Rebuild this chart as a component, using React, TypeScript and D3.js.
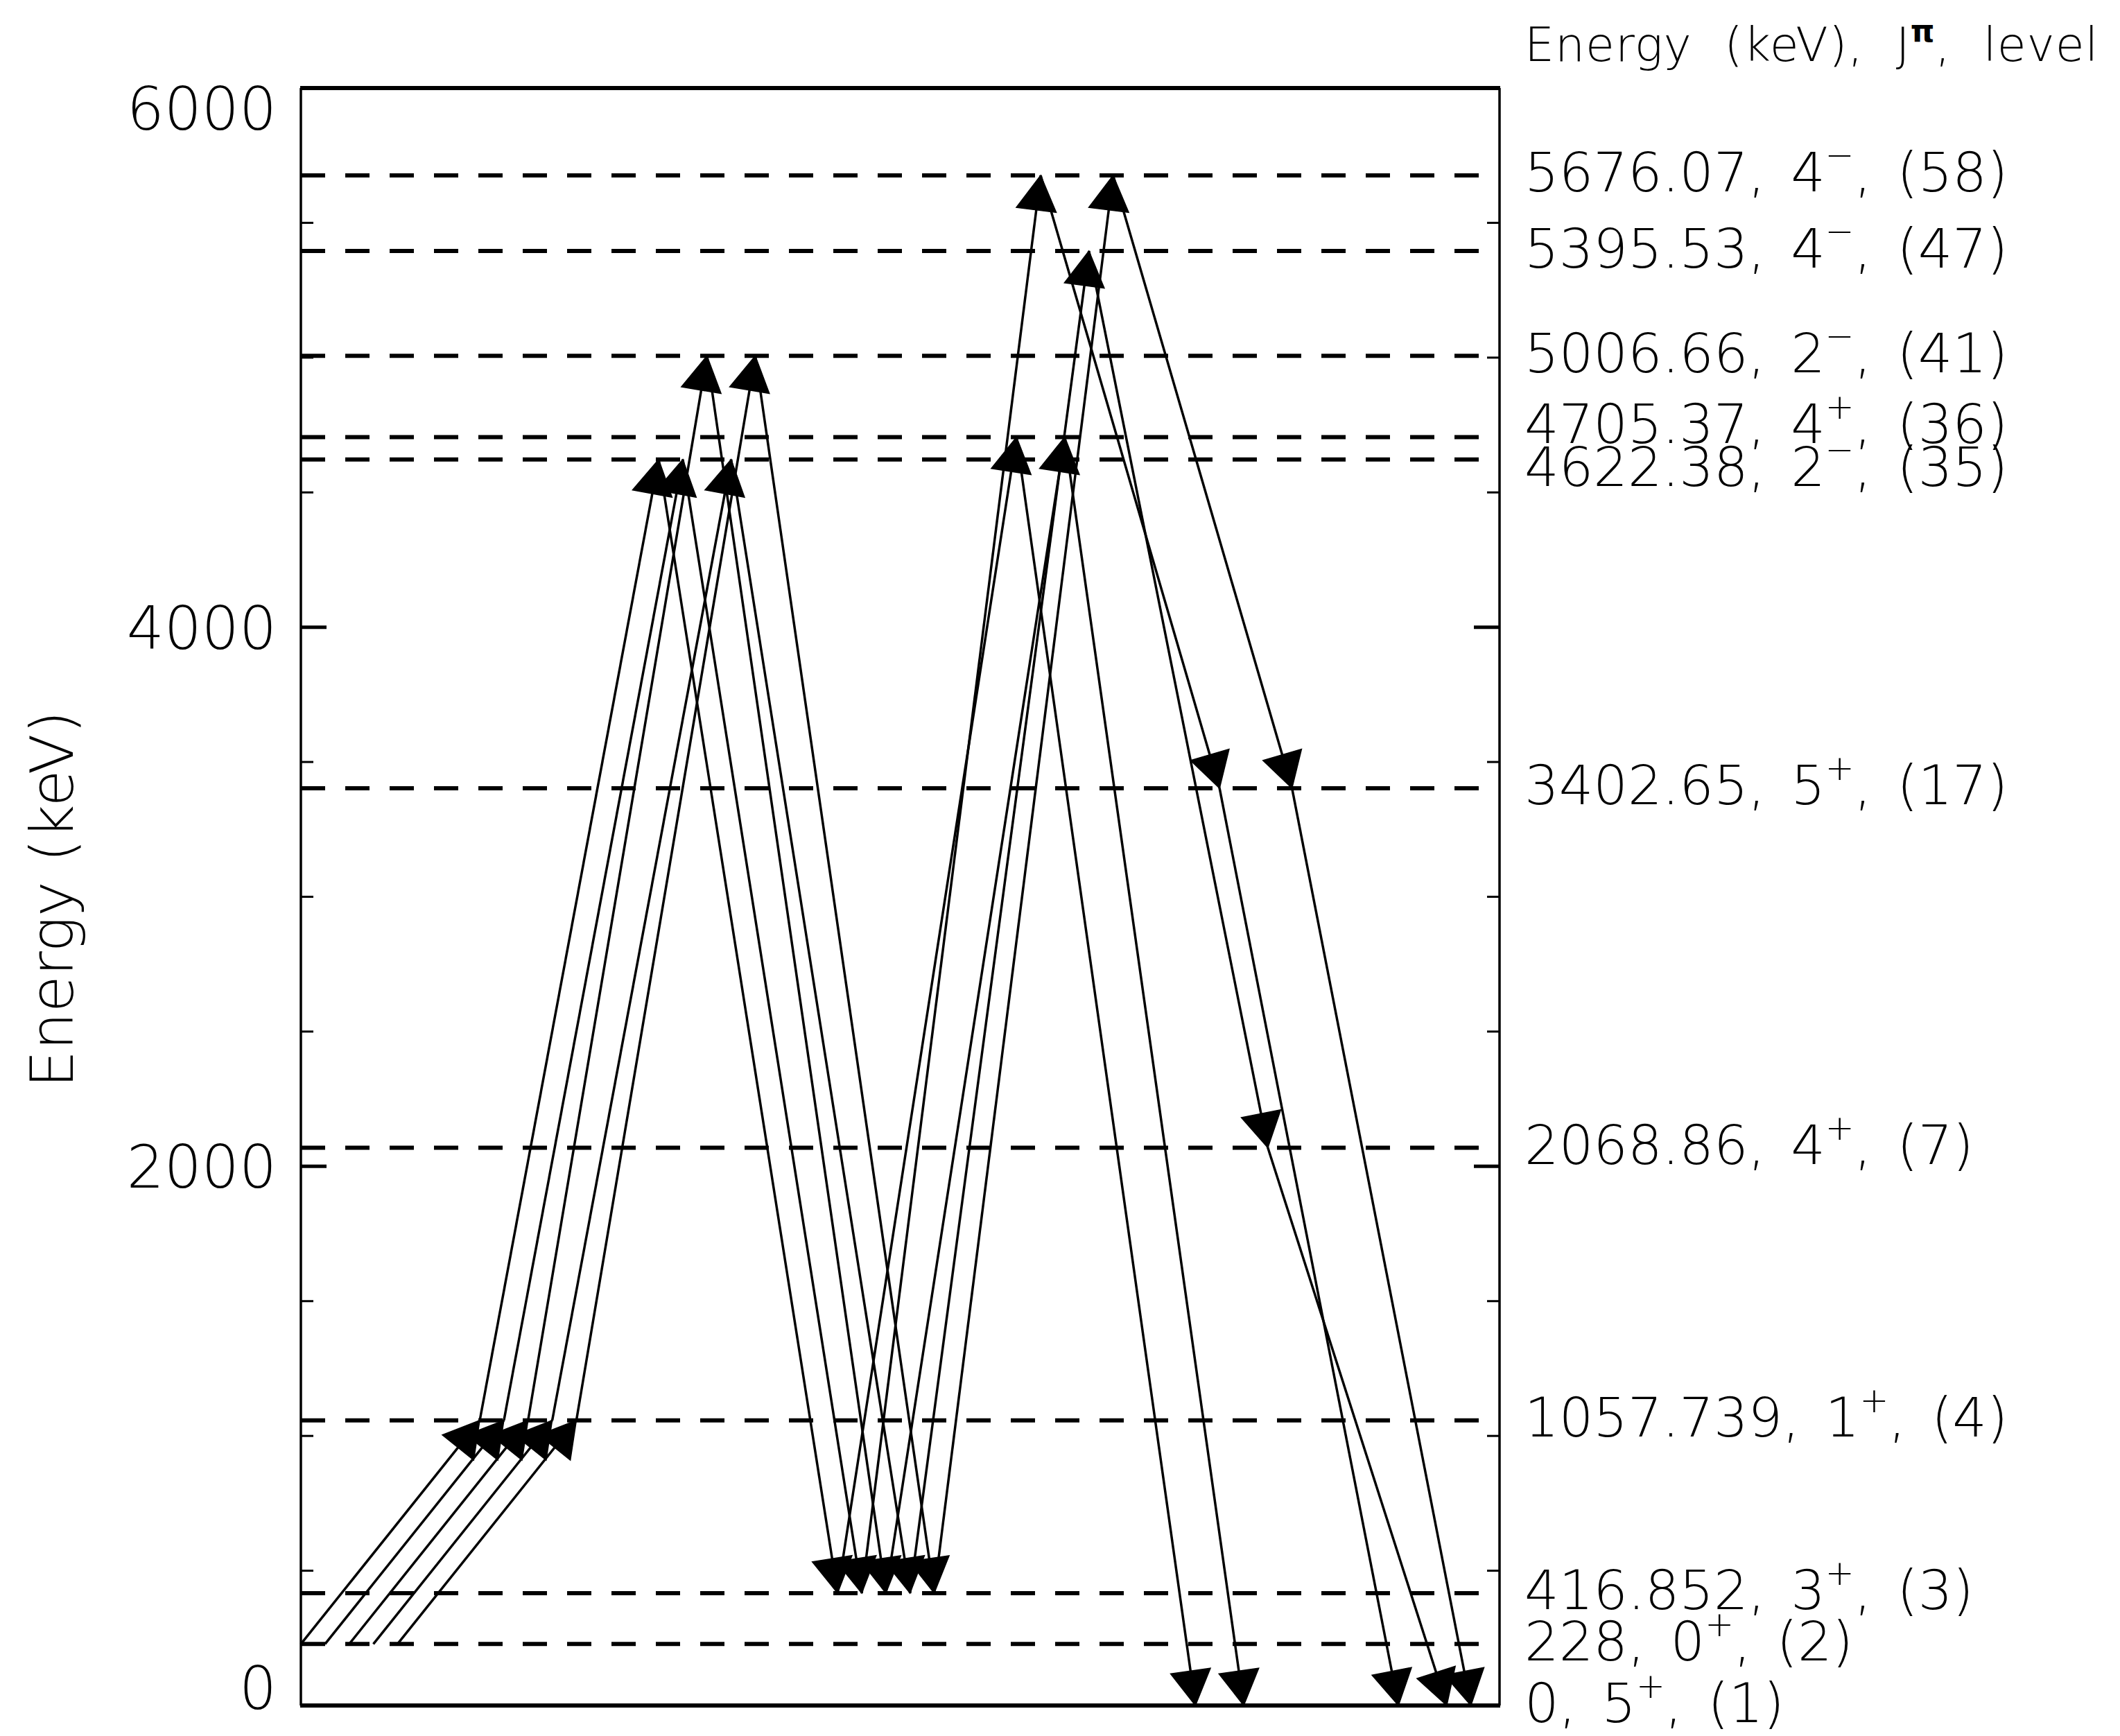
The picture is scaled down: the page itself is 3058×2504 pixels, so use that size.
import React from 'react';
import * as d3 from 'd3';

const W = 3058;
const H = 2504;

// Levels (keV), spin, parity, level index
const levelEnergies = [0, 228, 416.852, 1057.739, 2068.86, 3402.65, 4622.38, 4705.37, 5006.66, 5395.53, 5676.07];
const levelEnergyText = ['0', '228', '416.852', '1057.739', '2068.86', '3402.65', '4622.38', '4705.37', '5006.66', '5395.53', '5676.07'];
const levelSpins = ['5', '0', '3', '1', '4', '5', '2', '4', '2', '4', '4'];
const levelParities = ['+', '+', '+', '+', '+', '+', '\u2212', '+', '\u2212', '\u2212', '\u2212'];
const levelNumbers = [1, 2, 3, 4, 7, 17, 35, 36, 41, 47, 58];

// Cascades: the sequence of levels visited by each path
const cascadeLevels = [
  [228, 1057.739, 4622.38, 416.852, 4705.37, 0],
  [228, 1057.739, 4622.38, 416.852, 5676.07, 3402.65, 0],
  [228, 1057.739, 5006.66, 416.852, 4705.37, 0],
  [228, 1057.739, 4622.38, 416.852, 5395.53, 2068.86, 0],
  [228, 1057.739, 5006.66, 416.852, 5676.07, 3402.65, 0],
];
// horizontal offset of each cascade (x unit = one step)
const cascadeOffsets = [0, 0.135, 0.27, 0.405, 0.54];

const yMajorTicks = [0, 2000, 4000, 6000];
const yMinorTicks = [500, 1000, 1500, 2500, 3000, 3500, 4500, 5000, 5500];

const FONT = "'DejaVu Sans', sans-serif";
const FW = 200;

const L = 434, R = 2163, T = 127, B = 2460;

export default function App() {
  const x = d3.scaleLinear().domain([0, 6.7]).range([L, R]);
  const y = d3.scaleLinear().domain([0, 6000]).range([B, T]);

  // arrowhead
  const HEAD = 58;
  const HA = (30 * Math.PI) / 180;
  const head = (x0: number, y0: number, x1: number, y1: number) => {
    const a = Math.atan2(y1 - y0, x1 - x0);
    const p1 = [x1 - HEAD * Math.cos(a - HA), y1 - HEAD * Math.sin(a - HA)];
    const p2 = [x1 - HEAD * Math.cos(a + HA), y1 - HEAD * Math.sin(a + HA)];
    return `M${x1},${y1}L${p1[0]},${p1[1]}L${p2[0]},${p2[1]}Z`;
  };

  const segments: { x0: number; y0: number; x1: number; y1: number }[] = [];
  cascadeLevels.forEach((lv, k) => {
    for (let j = 1; j < lv.length; j++) {
      segments.push({
        x0: x(j - 1 + cascadeOffsets[k]),
        y0: y(lv[j - 1]),
        x1: x(j + cascadeOffsets[k]),
        y1: y(lv[j]),
      });
    }
  });

  // label placement: centred slightly above level, pushed apart when too close
  const MIN_SEP = 62;
  const pos = levelEnergies.map((e) => y(e) - 5);
  for (let it = 0; it < 60; it++) {
    for (let i = 0; i < pos.length - 1; i++) {
      if (pos[i] - pos[i + 1] < MIN_SEP) {
        const mid = (pos[i] + pos[i + 1]) / 2;
        pos[i] = mid + MIN_SEP / 2;
        pos[i + 1] = mid - MIN_SEP / 2;
      }
    }
  }

  const LABEL_FS = 78;
  const LABEL_CAP = 57;

  return (
    <svg
      width={W}
      height={H}
      viewBox={`0 0 ${W} ${H}`}
      style={{ position: 'absolute', left: 0, top: 0, background: '#fff' }}
      fontFamily={FONT}
      fontWeight={FW}
    >
      <rect x={0} y={0} width={W} height={H} fill="#fff" />

      {/* level lines */}
      {levelEnergies.map((e, i) => (
        <line
          key={'lv' + i}
          x1={L}
          x2={R}
          y1={y(e)}
          y2={y(e)}
          stroke="#000"
          strokeWidth={6}
          strokeDasharray="35 29"
        />
      ))}

      {/* transitions */}
      {segments.map((s, i) => (
        <g key={'seg' + i}>
          <line x1={s.x0} y1={s.y0} x2={s.x1} y2={s.y1} stroke="#000" strokeWidth={3.5} />
          <path d={head(s.x0, s.y0, s.x1, s.y1)} fill="#000" stroke="#000" strokeWidth={1.5} strokeLinejoin="miter" />
        </g>
      ))}

      {/* frame */}
      <line x1={L - 1} x2={R + 1} y1={T} y2={T} stroke="#000" strokeWidth={6} />
      <line x1={L - 1} x2={R + 1} y1={B} y2={B} stroke="#000" strokeWidth={6} />
      <line x1={L} x2={L} y1={T} y2={B} stroke="#000" strokeWidth={3.5} />
      <line x1={R} x2={R} y1={T} y2={B} stroke="#000" strokeWidth={3.5} />

      {/* ticks */}
      {yMajorTicks.map((t) => (
        <g key={'mj' + t}>
          <line x1={L} x2={L + 37} y1={y(t)} y2={y(t)} stroke="#000" strokeWidth={5} />
          <line x1={R} x2={R - 37} y1={y(t)} y2={y(t)} stroke="#000" strokeWidth={5} />
        </g>
      ))}
      {yMinorTicks.map((t) => (
        <g key={'mn' + t}>
          <line x1={L} x2={L + 18} y1={y(t)} y2={y(t)} stroke="#000" strokeWidth={3} />
          <line x1={R} x2={R - 18} y1={y(t)} y2={y(t)} stroke="#000" strokeWidth={3} />
        </g>
      ))}

      {/* tick labels */}
      {yMajorTicks.map((t) => {
        const c = Math.max(T + 29, Math.min(B - 26, y(t)));
        return (
          <text key={'tl' + t} x={399} y={c + 31} textAnchor="end" fontSize={85} fill="#000">
            {t}
          </text>
        );
      })}

      {/* axis title */}
      <text
        transform={`translate(105,1297) rotate(-90)`}
        textAnchor="middle"
        fontSize={86}
        fill="#000"
      >
        Energy (keV)
      </text>

      {/* header */}
      <text x={2199} y={88} fontSize={68} fill="#000" wordSpacing={24} letterSpacing={1}>
        Energy (keV), J
        <tspan dy={-28} fontSize={44} fontWeight={700}>
          {'\u03c0'}
        </tspan>
        <tspan dy={28}>, level</tspan>
      </text>

      {/* level labels */}
      {levelEnergies.map((e, i) => (
        <text
          key={'lb' + i}
          x={2199}
          y={pos[i] + LABEL_CAP / 2}
          fontSize={LABEL_FS}
          fill="#000"
          wordSpacing={12}
        >
          {levelEnergyText[i]}, {levelSpins[i]}
          <tspan dy={-35} fontSize={50}>
            {levelParities[i]}
          </tspan>
          <tspan dy={35}>, ({levelNumbers[i]})</tspan>
        </text>
      ))}
    </svg>
  );
}
